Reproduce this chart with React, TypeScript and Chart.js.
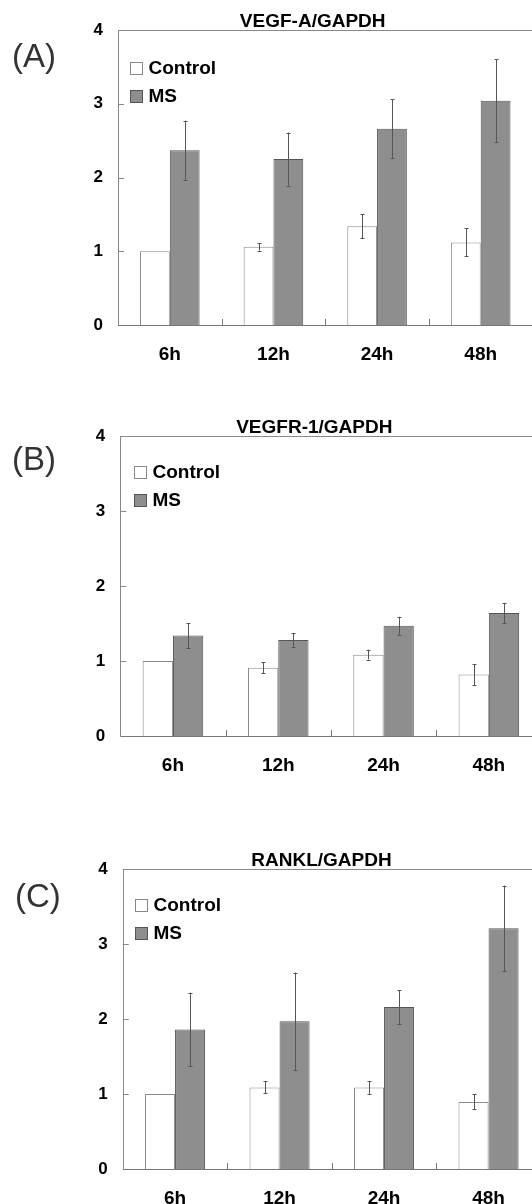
import React, { useEffect, useRef } from 'react';
import { Chart, registerables } from 'chart.js';

Chart.register(...registerables);

const FONT = "'Liberation Sans', Arial, Helvetica, sans-serif";

// ---- data ----
const categories = ['6h', '12h', '24h', '48h'];
const seriesNames = ['Control', 'MS'];
const yTickValues = [0, 1, 2, 3, 4];

const vegfaControl = [1.0, 1.06, 1.34, 1.12];
const vegfaControlErr = [0, 0.05, 0.165, 0.19];
const vegfaMS = [2.37, 2.25, 2.66, 3.04];
const vegfaMSErr = [0.4, 0.36, 0.4, 0.56];

const vegfr1Control = [1.0, 0.91, 1.085, 0.82];
const vegfr1ControlErr = [0, 0.075, 0.065, 0.14];
const vegfr1MS = [1.34, 1.28, 1.47, 1.64];
const vegfr1MSErr = [0.165, 0.09, 0.12, 0.135];

const ranklControl = [1.0, 1.087, 1.087, 0.895];
const ranklControlErr = [0, 0.08, 0.085, 0.1];
const ranklMS = [1.86, 1.97, 2.16, 3.21];
const ranklMSErr = [0.49, 0.65, 0.225, 0.57];

// ---- layout (pixels) ----
const panels = [
  {
    tag: '(A)', title: 'VEGF-A/GAPDH',
    control: vegfaControl, controlErr: vegfaControlErr, ms: vegfaMS, msErr: vegfaMSErr,
    plotTop: 30, plotBottom: 325, axisX: 118, plotRight: 532.5, titleX: 312.7,
    tagX: 12, tagY: 39, legendDx: 12, legendDy: 32,
  },
  {
    tag: '(B)', title: 'VEGFR-1/GAPDH',
    control: vegfr1Control, controlErr: vegfr1ControlErr, ms: vegfr1MS, msErr: vegfr1MSErr,
    plotTop: 435.5, plotBottom: 735.5, axisX: 120.3, plotRight: 541.5, titleX: 314.3,
    tagX: 12, tagY: 442, legendDx: 14, legendDy: 30,
  },
  {
    tag: '(C)', title: 'RANKL/GAPDH',
    control: ranklControl, controlErr: ranklControlErr, ms: ranklMS, msErr: ranklMSErr,
    plotTop: 869.3, plotBottom: 1168.5, axisX: 122.8, plotRight: 540.8, titleX: 321.5,
    tagX: 15, tagY: 879, legendDx: 12, legendDy: 30,
  },
];

const CANVAS_W = 560;
const TOP_SPACE = 26;
const X_AXIS_H = 45;

const framePlugin = {
  id: 'frame',
  beforeDatasetsDraw(chart: any) {
    const { ctx, chartArea } = chart;
    const { left, right, top, bottom } = chartArea;
    const xs = chart.scales.x;
    const ys = chart.scales.y;
    ctx.save();
    ctx.lineWidth = 1;
    // top border
    ctx.strokeStyle = '#8a8a8a';
    ctx.beginPath();
    ctx.moveTo(left, Math.round(top) + 0.5);
    ctx.lineTo(right + 20, Math.round(top) + 0.5);
    ctx.stroke();
    // left axis
    ctx.strokeStyle = '#888888';
    ctx.beginPath();
    ctx.moveTo(Math.round(left) + 0.5, top);
    ctx.lineTo(Math.round(left) + 0.5, bottom);
    ctx.stroke();
    // y ticks inward
    yTickValues.slice(1, -1).forEach((v) => {
      const y = Math.round(ys.getPixelForValue(v)) + 0.5;
      ctx.beginPath();
      ctx.moveTo(left, y);
      ctx.lineTo(left + 6, y);
      ctx.stroke();
    });
    // bottom axis
    ctx.strokeStyle = '#777777';
    ctx.beginPath();
    ctx.moveTo(left, Math.round(bottom) + 0.5);
    ctx.lineTo(right + 20, Math.round(bottom) + 0.5);
    ctx.stroke();
    // x ticks between categories, pointing up
    for (let i = 0; i < categories.length - 1; i++) {
      const x = Math.round((xs.getPixelForValue(i) + xs.getPixelForValue(i + 1)) / 2) + 0.5;
      ctx.beginPath();
      ctx.moveTo(x, bottom);
      ctx.lineTo(x, bottom - 6);
      ctx.stroke();
    }
    ctx.restore();
  },
};

const errorBarPlugin = {
  id: 'errorBars',
  afterDatasetsDraw(chart: any) {
    const { ctx } = chart;
    const ys = chart.scales.y;
    ctx.save();
    ctx.lineWidth = 1;
    ctx.strokeStyle = '#555555';
    chart.data.datasets.forEach((ds: any, d: number) => {
      const meta = chart.getDatasetMeta(d);
      meta.data.forEach((el: any, i: number) => {
        const e = ds.errors[i];
        if (!e) return;
        const v = ds.data[i];
        const x = Math.round(el.x) + 0.5;
        const y1 = ys.getPixelForValue(v + e);
        const y2 = ys.getPixelForValue(v - e);
        ctx.beginPath();
        ctx.moveTo(x, y1);
        ctx.lineTo(x, y2);
        ctx.moveTo(x - 2, Math.round(y1) + 0.5);
        ctx.lineTo(x + 2, Math.round(y1) + 0.5);
        ctx.moveTo(x - 2, Math.round(y2) + 0.5);
        ctx.lineTo(x + 2, Math.round(y2) + 0.5);
        ctx.stroke();
      });
    });
    ctx.restore();
  },
};

const legendPlugin = {
  id: 'insideLegend',
  afterDraw(chart: any, _args: any, opts: any) {
    const { ctx, chartArea } = chart;
    ctx.save();
    chart.data.datasets.forEach((ds: any, d: number) => {
      const bx = Math.round(chartArea.left + opts.dx) + 0.5;
      const by = Math.round(chartArea.top + opts.dy + d * 27.5) + 0.5;
      const size = 12;
      ctx.fillStyle = ds.backgroundColor;
      ctx.fillRect(bx, by, size, size);
      ctx.strokeStyle = d === 0 ? '#888888' : '#555555';
      ctx.lineWidth = 1;
      ctx.strokeRect(bx, by, size, size);
      ctx.fillStyle = '#000000';
      ctx.font = `bold 19px ${FONT}`;
      ctx.textBaseline = 'middle';
      ctx.textAlign = 'left';
      ctx.fillText(ds.label, bx + 18, by + size / 2 + 0.5);
    });
    ctx.restore();
  },
};

const titlePlugin = {
  id: 'panelTitle',
  afterDraw(chart: any, _args: any, opts: any) {
    const { ctx, chartArea } = chart;
    ctx.save();
    ctx.fillStyle = '#000000';
    ctx.font = `bold 19px ${FONT}`;
    ctx.textAlign = 'center';
    ctx.textBaseline = 'alphabetic';
    ctx.fillText(opts.text, opts.x, chartArea.top - 3);
    ctx.restore();
  },
};

function Panel({ p }: { p: any }) {
  const ref = useRef<HTMLCanvasElement | null>(null);
  const canvasTop = p.plotTop - TOP_SPACE;
  const height = Math.ceil(p.plotBottom - canvasTop + X_AXIS_H);

  useEffect(() => {
    if (!ref.current) return;
    const chart = new Chart(ref.current, {
      type: 'bar',
      data: {
        labels: categories,
        datasets: [
          {
            label: seriesNames[0],
            data: p.control,
            errors: p.controlErr,
            backgroundColor: '#ffffff',
            borderColor: '#8a8a8a',
            borderWidth: 1,
            categoryPercentage: 0.575,
            barPercentage: 1,
          } as any,
          {
            label: seriesNames[1],
            data: p.ms,
            errors: p.msErr,
            backgroundColor: '#8e8e8e',
            borderColor: '#555555',
            borderWidth: 1,
            categoryPercentage: 0.575,
            barPercentage: 1,
          } as any,
        ],
      },
      options: {
        responsive: false,
        maintainAspectRatio: false,
        animation: false,
        devicePixelRatio: 1,
        layout: { padding: { left: 0, right: CANVAS_W - p.plotRight, top: TOP_SPACE, bottom: 0 } },
        plugins: {
          legend: { display: false },
          tooltip: { enabled: false },
          title: { display: false },
          insideLegend: { dx: p.legendDx, dy: p.legendDy },
          panelTitle: { text: p.title, x: p.titleX },
        } as any,
        scales: {
          x: {
            type: 'category',
            offset: true,
            grid: { display: false, drawTicks: false },
            border: { display: false },
            ticks: {
              color: '#000000',
              font: { family: FONT, size: 19, weight: 'bold' },
              padding: 18.6,
              maxRotation: 0,
              autoSkip: false,
            },
            afterFit: (s: any) => { s.height = X_AXIS_H; },
          },
          y: {
            min: 0,
            max: 4,
            grid: { display: false, drawTicks: false },
            border: { display: false },
            ticks: {
              stepSize: 1,
              color: '#000000',
              font: { family: FONT, size: 17, weight: 'bold' },
              padding: 15,
            },
            afterFit: (s: any) => { s.width = p.axisX; },
          },
        },
      } as any,
      plugins: [framePlugin, errorBarPlugin, legendPlugin, titlePlugin],
    });
    return () => chart.destroy();
  }, []);

  return (
    <>
      <canvas
        ref={ref}
        width={CANVAS_W}
        height={height}
        style={{ position: 'absolute', left: 0, top: canvasTop, width: CANVAS_W, height }}
      />
      <div
        style={{
          position: 'absolute', left: p.tagX, top: p.tagY,
          fontFamily: FONT, fontSize: 33, lineHeight: '33px', color: '#333333',
          whiteSpace: 'nowrap',
        }}
      >
        {p.tag}
      </div>
    </>
  );
}

export default function App() {
  return (
    <div
      style={{
        position: 'absolute', left: 0, top: 0, width: 532, height: 1204,
        overflow: 'hidden', background: '#ffffff',
      }}
    >
      {panels.map((p) => (
        <Panel key={p.tag} p={p} />
      ))}
    </div>
  );
}
